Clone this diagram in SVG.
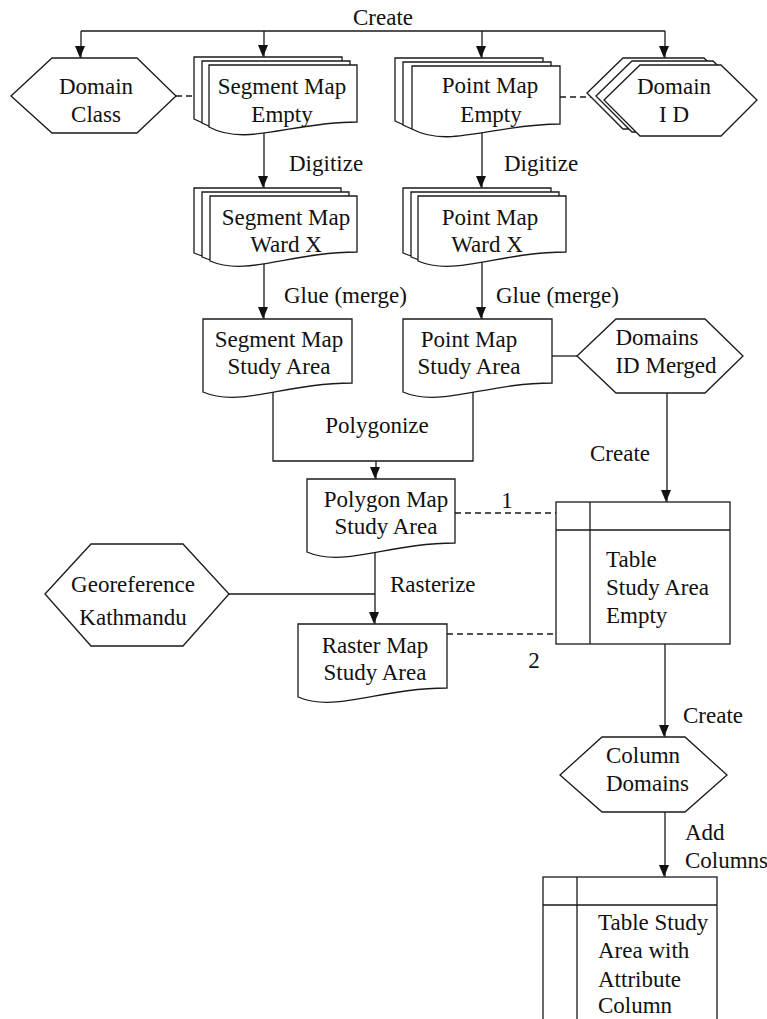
<svg xmlns="http://www.w3.org/2000/svg" width="767" height="1019" viewBox="0 0 767 1019">
<style>
.n{fill:#fff;stroke:#1a1a1a;stroke-width:1.3}
.c{fill:none;stroke:#1a1a1a;stroke-width:1.3}
.d{fill:none;stroke:#1a1a1a;stroke-width:1.3;stroke-dasharray:6 4}
.a{marker-end:url(#arr)}
text{font-family:"Liberation Serif","Times New Roman",serif;font-size:23px;fill:#111}
.m{text-anchor:middle}
</style>
<defs>
<marker id="arr" viewBox="0 0 10 12" refX="6" refY="12" markerWidth="10" markerHeight="12" markerUnits="userSpaceOnUse" orient="0">
<path d="M0,0 L10,0 L5,12 Z" fill="#111"/>
</marker>
</defs>
<rect width="767" height="1019" fill="#fff"/>
<g id="connectors">
<path class="c" d="M81,31 H665"/>
<path class="c a" d="M81,31 V58"/>
<path class="c a" d="M264,31 V57"/>
<path class="c a" d="M482,31 V58"/>
<path class="c a" d="M665,31 V58"/>
<path class="d" d="M176,96 H200"/>
<path class="d" d="M560,97 H598"/>
<path class="c a" d="M264,130 V188"/>
<path class="c a" d="M482,130 V188"/>
<path class="c a" d="M264,262 V319"/>
<path class="c a" d="M482,262 V319"/>
<path class="c" d="M273,392 V461 H473 V392"/>
<path class="c a" d="M376,461 V479"/>
<path class="c" d="M552,356 H577"/>
<path class="c a" d="M667,393 V502"/>
<path class="d" d="M455,513 H556"/>
<path class="c a" d="M375,550 V624"/>
<path class="c" d="M229,594 H375"/>
<path class="d" d="M447,634 H556"/>
<path class="c a" d="M665,644 V737"/>
<path class="c a" d="M665,812 V877"/>
<text x="383" y="25" class="m">Create</text>
<text x="289" y="171">Digitize</text>
<text x="504" y="171">Digitize</text>
<text x="284" y="303">Glue (merge)</text>
<text x="496" y="303">Glue (merge)</text>
<text x="377" y="433" class="m">Polygonize</text>
<text x="590" y="461">Create</text>
<text x="507" y="508" class="m">1</text>
<text x="390" y="592">Rasterize</text>
<text x="534" y="668" class="m">2</text>
<text x="683" y="723">Create</text>
<text x="685" y="840">Add</text>
<text x="685" y="868">Columns</text>
</g>
<g id="domain-class">
<polygon class="n" points="11,96 52,58 137,58 176,96 137,133 52,133"/>
<text x="96" y="94" class="m">Domain</text>
<text x="96" y="122" class="m">Class</text>
</g>
<g id="segment-map-empty">
<path class="n" d="M194,57 H342 V114 C275.4,114 231,139 194,119 Z"/>
<path class="n" d="M202,61 H350 V118 C283.4,118 239,143 202,123 Z"/>
<path class="n" d="M209,65 H357 V122 C290.4,122 246,147 209,127 Z"/>
<text x="282" y="94" class="m">Segment Map</text>
<text x="282" y="122" class="m">Empty</text>
</g>
<g id="point-map-empty">
<path class="n" d="M395,58 H543 V116 C476.4,116 432,141 395,121 Z"/>
<path class="n" d="M403,62 H551 V120 C484.4,120 440,145 403,125 Z"/>
<path class="n" d="M412,66 H560 V124 C493.4,124 449,149 412,129 Z"/>
<text x="490" y="93" class="m">Point Map</text>
<text x="491" y="122" class="m">Empty</text>
</g>
<g id="domain-id">
<polygon class="n" points="587,93 623,58 704,58 740,93 704,129 623,129"/>
<polygon class="n" points="596,96 632,61 713,61 749,96 713,132 632,132"/>
<polygon class="n" points="604,100 640,65 721,65 757,100 721,136 640,136"/>
<text x="674" y="94" class="m">Domain</text>
<text x="674" y="122" class="m">I D</text>
</g>
<g id="segment-map-ward">
<path class="n" d="M194,188 H341 V244 C274.9,244 230.8,269 194,253 Z"/>
<path class="n" d="M202,192 H349 V248 C282.9,248 238.8,273 202,257 Z"/>
<path class="n" d="M210,196 H357 V252 C290.9,252 246.8,277 210,261 Z"/>
<text x="286" y="225" class="m">Segment Map</text>
<text x="286" y="252" class="m">Ward X</text>
</g>
<g id="point-map-ward">
<path class="n" d="M403,188 H551 V244 C484.4,244 440,269 403,253 Z"/>
<path class="n" d="M411,192 H559 V248 C492.4,248 448,273 411,257 Z"/>
<path class="n" d="M418,196 H566 V252 C499.4,252 455,277 418,261 Z"/>
<text x="490" y="225" class="m">Point Map</text>
<text x="487" y="252" class="m">Ward X</text>
</g>
<g id="segment-map-study">
<path class="n" d="M203,319 H352 V383 C285,383 240.3,408 203,392 Z"/>
<text x="279" y="347" class="m">Segment Map</text>
<text x="279" y="374" class="m">Study Area</text>
</g>
<g id="point-map-study">
<path class="n" d="M403,319 H552 V383 C485,383 440.3,408 403,392 Z"/>
<text x="469" y="347" class="m">Point Map</text>
<text x="469" y="374" class="m">Study Area</text>
</g>
<g id="domains-id-merged">
<polygon class="n" points="577,356 616,319 705,319 743,356 705,393 616,393"/>
<text x="657" y="345" class="m">Domains</text>
<text x="666" y="373" class="m">ID Merged</text>
</g>
<g id="polygon-map">
<path class="n" d="M307,479 H455 V543 C388.4,543 344,568 307,552 Z"/>
<text x="386" y="507" class="m">Polygon Map</text>
<text x="386" y="534" class="m">Study Area</text>
</g>
<g id="table-empty">
<rect class="n" x="556" y="502" width="174" height="142"/>
<path class="c" d="M590,502 V644 M556,530 H730"/>
<text x="606" y="567">Table</text>
<text x="606" y="595">Study Area</text>
<text x="606" y="623">Empty</text>
</g>
<g id="georeference">
<polygon class="n" points="45,594 91,544 183,544 229,594 183,646 91,646"/>
<text x="133" y="592" class="m">Georeference</text>
<text x="133" y="625" class="m">Kathmandu</text>
</g>
<g id="raster-map">
<path class="n" d="M298,624 H447 V688 C380,688 335.3,713 298,697 Z"/>
<text x="375" y="653" class="m">Raster Map</text>
<text x="375" y="680" class="m">Study Area</text>
</g>
<g id="column-domains">
<polygon class="n" points="560,775 602,737 685,737 727,775 685,812 602,812"/>
<text x="606" y="763">Column</text>
<text x="606" y="791">Domains</text>
</g>
<g id="table-attribute">
<rect class="n" x="543" y="877" width="174" height="170"/>
<path class="c" d="M577,877 V1047 M543,905 H717"/>
<text x="598" y="930">Table Study</text>
<text x="598" y="958">Area with</text>
<text x="598" y="987">Attribute</text>
<text x="598" y="1013">Column</text>
</g>
</svg>
